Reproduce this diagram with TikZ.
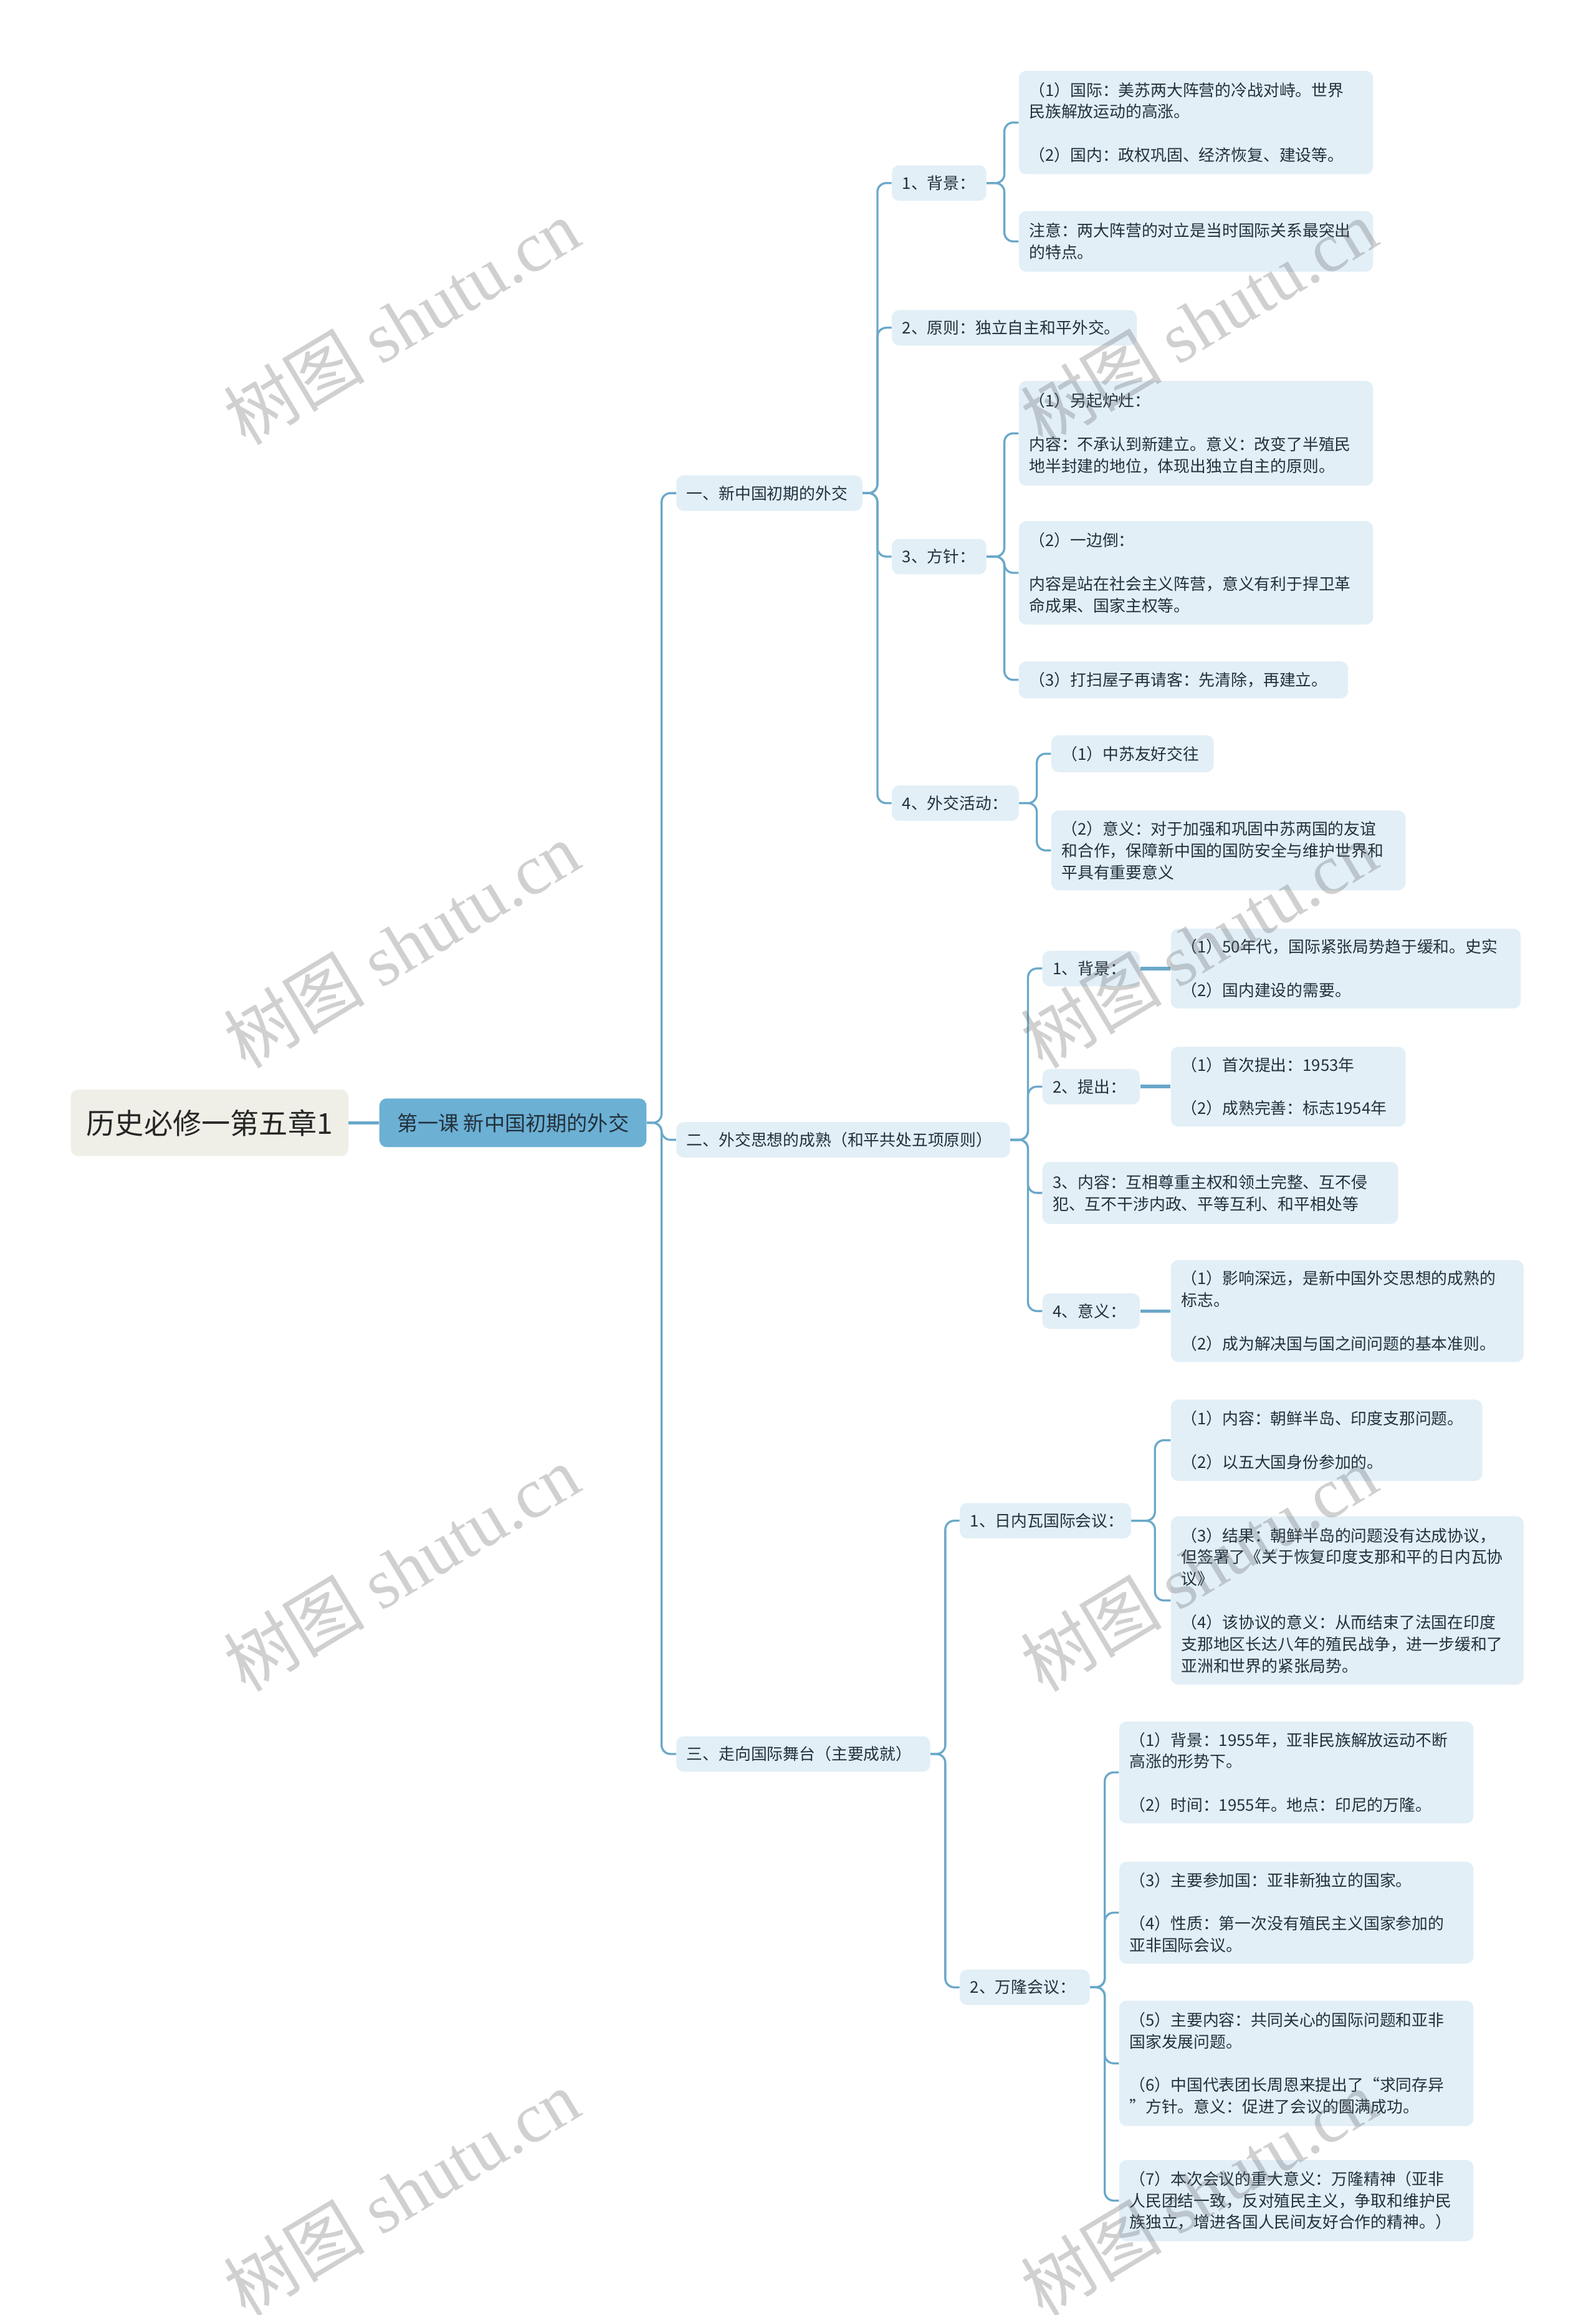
\documentclass[tikz,border=0pt]{standalone}
\usepackage{fontspec}
\setmainfont{Noto Sans CJK SC}
\newfontfamily\wmlatin{Liberation Serif}
\definecolor{rootfill}{HTML}{EFEEE7}
\definecolor{topicfill}{HTML}{6CB0D4}
\definecolor{leaffill}{HTML}{E2EFF7}
\definecolor{leaftext}{HTML}{22313C}
\definecolor{linkcolor}{HTML}{6AA8C9}

\begin{document}
\begin{tikzpicture}[x=1pt, y=-1pt]

      \tikzset{rootbox/.style={fill=rootfill, rounded corners=5pt, text=black!85, minimum width=188pt, minimum height=45pt, font=\fontsize{19.5}{23}\selectfont},
               topicbox/.style={fill=topicfill, rounded corners=5pt, text=leaftext, minimum width=181pt, minimum height=33pt, font=\fontsize{14}{17}\selectfont},
               leaf/.style={fill=leaffill, rounded corners=5pt, text=leaftext, anchor=west, align=left, inner xsep=7pt, inner ysep=5pt, font=\fontsize{10.9}{14.7}\selectfont},
               link/.style={draw=linkcolor, line width=1.4pt, rounded corners=6pt},
               thicklink/.style={draw=linkcolor, line width=2.4pt},
               wmark/.style={text=black!60, text opacity=0.3, rotate=31, font=\fontsize{48}{48}\selectfont}}

      \useasboundingbox (0,0) rectangle (1081,1568);
      \fill[white] (0,0) rectangle (1081,1568);
%% Centre
      	\node[rootbox] (root) at (142,760.5) {历史必修一第五章1};
      	\node[topicbox] (lesson) at (347.5,760.5) {第一课 新中国初期的外交};
%% Sections
      	\node[leaf, text width=112pt, minimum height=24pt] (yi) at (458,334) {一、新中国初期的外交};
      	\node[leaf, text width=212pt, minimum height=24pt] (er) at (458,772) {二、外交思想的成熟（和平共处五项原则）};
      	\node[leaf, text width=158pt, minimum height=24pt] (san) at (458,1188) {三、走向国际舞台（主要成就）};
%% Section one
      	\node[leaf, text width=50pt, minimum height=24pt] (yibg) at (604,124) {1、背景：};
      	\node[leaf, text width=152pt, minimum height=24pt] (yiyz) at (604,222) {2、原则：独立自主和平外交。};
      	\node[leaf, text width=50pt, minimum height=24pt] (yifz) at (604,377) {3、方针：};
      	\node[leaf, text width=72pt, minimum height=24pt] (yihd) at (604,544) {4、外交活动：};
      	\node[leaf, text width=226pt, minimum height=70pt] (bg1) at (690,83) {（1）国际：美苏两大阵营的冷战对峙。世界\\民族解放运动的高涨。\\[14.7pt]（2）国内：政权巩固、经济恢复、建设等。};
      	\node[leaf, text width=226pt, minimum height=41pt] (bg2) at (690,163.5) {注意：两大阵营的对立是当时国际关系最突出\\的特点。};
      	\node[leaf, text width=226pt, minimum height=71pt] (fz1) at (690,293.5) {（1）另起炉灶：\\[14.7pt]内容：不承认到新建立。意义：改变了半殖民\\地半封建的地位，体现出独立自主的原则。};
      	\node[leaf, text width=226pt, minimum height=70pt] (fz2) at (690,388) {（2）一边倒：\\[14.7pt]内容是站在社会主义阵营，意义有利于捍卫革\\命成果、国家主权等。};
      	\node[leaf, text width=209pt, minimum height=25pt] (fz3) at (690,460.5) {（3）打扫屋子再请客：先清除，再建立。};
      	\node[leaf, text width=96pt, minimum height=25pt] (hd1) at (712,510.5) {（1）中苏友好交往};
      	\node[leaf, text width=226pt, minimum height=54pt] (hd2) at (712,576) {（2）意义：对于加强和巩固中苏两国的友谊\\和合作，保障新中国的国防安全与维护世界和\\平具有重要意义};
%% Section two
      	\node[leaf, text width=52pt, minimum height=24pt] (erbg) at (706,656) {1、背景：};
      	\node[leaf, text width=52pt, minimum height=24pt] (ertc) at (706,736) {2、提出：};
      	\node[leaf, text width=227pt, minimum height=42pt] (ernr) at (706,808) {3、内容：互相尊重主权和领土完整、互不侵\\犯、互不干涉内政、平等互利、和平相处等};
      	\node[leaf, text width=52pt, minimum height=24pt] (eryy) at (706,888) {4、意义：};
      	\node[leaf, text width=223pt, minimum height=54pt] (bj) at (793,656) {（1）50年代，国际紧张局势趋于缓和。史实\\[14.7pt]（2）国内建设的需要。};
      	\node[leaf, text width=145pt, minimum height=54pt] (tc) at (793,736) {（1）首次提出：1953年\\[14.7pt]（2）成熟完善：标志1954年};
      	\node[leaf, text width=225pt, minimum height=69pt] (yy) at (793,888) {（1）影响深远，是新中国外交思想的成熟的\\标志。\\[14.7pt]（2）成为解决国与国之间问题的基本准则。};
%% Section three
      	\node[leaf, text width=102pt, minimum height=24pt] (rnw) at (650,1030) {1、日内瓦国际会议：};
      	\node[leaf, text width=74pt, minimum height=24pt] (wl) at (650,1346) {2、万隆会议：};
      	\node[leaf, text width=197pt, minimum height=55pt] (rnw1) at (793,975.5) {（1）内容：朝鲜半岛、印度支那问题。\\[14.7pt]（2）以五大国身份参加的。};
      	\node[leaf, text width=225pt, minimum height=114pt] (rnw2) at (793,1084) {（3）结果：朝鲜半岛的问题没有达成协议，\\但签署了《关于恢复印度支那和平的日内瓦协\\议》\\[14.7pt]（4）该协议的意义：从而结束了法国在印度\\支那地区长达八年的殖民战争，进一步缓和了\\亚洲和世界的紧张局势。};
      	\node[leaf, text width=226pt, minimum height=69pt] (wl1) at (758,1200.5) {（1）背景：1955年，亚非民族解放运动不断\\高涨的形势下。\\[14.7pt]（2）时间：1955年。地点：印尼的万隆。};
      	\node[leaf, text width=226pt, minimum height=69pt] (wl2) at (758,1295.5) {（3）主要参加国：亚非新独立的国家。\\[14.7pt]（4）性质：第一次没有殖民主义国家参加的\\亚非国际会议。};
      	\node[leaf, text width=226pt, minimum height=85pt] (wl3) at (758,1397.5) {（5）主要内容：共同关心的国际问题和亚非\\国家发展问题。\\[14.7pt]（6）中国代表团长周恩来提出了“求同存异\\”方针。意义：促进了会议的圆满成功。};
      	\node[leaf, text width=226pt, minimum height=55pt] (wl4) at (758,1490.5) {（7）本次会议的重大意义：万隆精神（亚非\\人民团结一致，反对殖民主义，争取和维护民\\族独立，增进各国人民间友好合作的精神。）};
%Edges
		\draw[thicklink] (root.east) -- (lesson.west);
		\foreach \c in {yi,er,san} \draw[link] (lesson.east) -- ++(10,0) |- (\c.west);
		\foreach \c in {yibg,yiyz,yifz,yihd} \draw[link] (yi.east) -- ++(10,0) |- (\c.west);
		\foreach \c in {bg1,bg2} \draw[link] (yibg.east) -- ++(12,0) |- (\c.west);
		\foreach \c in {fz1,fz2,fz3} \draw[link] (yifz.east) -- ++(12,0) |- (\c.west);
		\foreach \c in {hd1,hd2} \draw[link] (yihd.east) -- ++(12,0) |- (\c.west);
		\foreach \c in {erbg,ertc,ernr,eryy} \draw[link] (er.east) -- ++(12,0) |- (\c.west);
		\draw[thicklink] (erbg.east) -- (bj.west);
		\draw[thicklink] (ertc.east) -- (tc.west);
		\draw[thicklink] (eryy.east) -- (yy.west);
		\foreach \c in {rnw,wl} \draw[link] (san.east) -- ++(10,0) |- (\c.west);
		\foreach \c in {rnw1,rnw2} \draw[link] (rnw.east) -- ++(16,0) |- (\c.west);
		\foreach \c in {wl1,wl2,wl3,wl4} \draw[link] (wl.east) -- ++(10,0) |- (\c.west);
%Watermarks
		\foreach \wx in {272,812} \foreach \wy in {218,640,1062,1485}
			\node[wmark] (wm-\wx-\wy) at (\wx,\wy) {树图 {\wmlatin shutu.cn}};

	\end{tikzpicture}
\end{document}
